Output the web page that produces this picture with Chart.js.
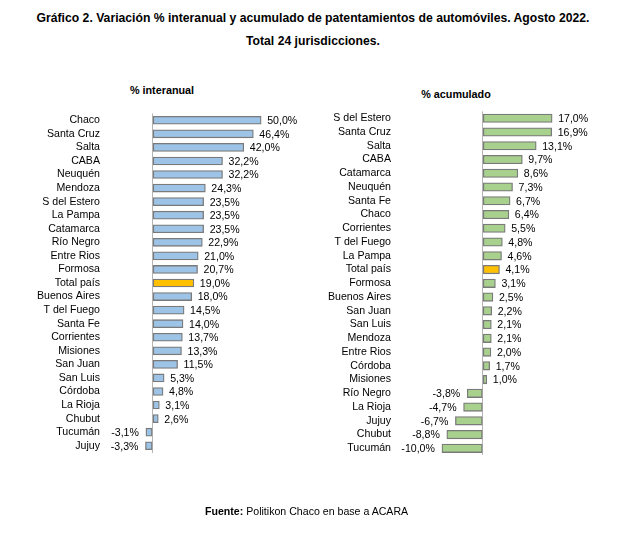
<!DOCTYPE html>
<html>
<head>
<meta charset="utf-8">
<script src="https://cdn.jsdelivr.net/npm/chart.js@4.4.0/dist/chart.umd.min.js"></script>
<style>
  body { margin: 0; background: #fff; font-family: "Liberation Sans", Arial, sans-serif; color: #000; }
  #page { position: relative; width: 626px; height: 551px; overflow: hidden; }
  .txt { position: absolute; white-space: nowrap; }
  .title { font-weight: bold; font-size: 12.2px; left: 0; width: 626px; text-align: center; }
  .sub { font-weight: bold; font-size: 10.8px; transform: translateX(-50%); }
  #left { position: absolute; left: 0; top: 0; width: 310px; height: 551px; }
  #right { position: absolute; left: 310px; top: 0; width: 316px; height: 551px; }
</style>
</head>
<body>
<div id="page">
  <div class="txt title" style="top:11px;">Gráfico 2. Variación % interanual y acumulado de patentamientos de automóviles. Agosto 2022.</div>
  <div class="txt title" style="top:34px;">Total 24 jurisdicciones.</div>
  <div class="txt sub" style="left:162px; top:84px;">% interanual</div>
  <div class="txt sub" style="left:456px; top:88px;">% acumulado</div>
  <div id="left"><canvas id="chartLeft"></canvas></div>
  <div id="right"><canvas id="chartRight"></canvas></div>
  <div class="txt" style="left:205px; top:505px; font-size:10.6px;"><b>Fuente:</b> Politikon Chaco en base a ACARA</div>
</div>
<script>
var interanualLabels = ["Chaco", "Santa Cruz", "Salta", "CABA", "Neuquén", "Mendoza", "S del Estero",
    "La Pampa", "Catamarca", "Río Negro", "Entre Rios", "Formosa", "Total país", "Buenos Aires",
    "T del Fuego", "Santa Fe", "Corrientes", "Misiones", "San Juan", "San Luis", "Córdoba",
    "La Rioja", "Chubut", "Tucumán", "Jujuy"];
var interanualValues = [50.0, 46.4, 42.0, 32.2, 32.2, 24.3, 23.5, 23.5, 23.5, 22.9, 21.0, 20.7, 19.0,
    18.0, 14.5, 14.0, 13.7, 13.3, 11.5, 5.3, 4.8, 3.1, 2.6, -3.1, -3.3];

var acumuladoLabels = ["S del Estero", "Santa Cruz", "Salta", "CABA", "Catamarca", "Neuquén", "Santa Fe",
    "Chaco", "Corrientes", "T del Fuego", "La Pampa", "Total país", "Formosa", "Buenos Aires",
    "San Juan", "San Luis", "Mendoza", "Entre Rios", "Córdoba", "Misiones", "Río Negro",
    "La Rioja", "Jujuy", "Chubut", "Tucumán"];
var acumuladoValues = [17.0, 16.9, 13.1, 9.7, 8.6, 7.3, 6.7, 6.4, 5.5, 4.8, 4.6, 4.1, 3.1, 2.5,
    2.2, 2.1, 2.1, 2.0, 1.7, 1.0, -3.8, -4.7, -6.7, -8.8, -10.0];

var FONT = "'Liberation Sans', Arial, sans-serif";
var highlight = "Total país";

function fmt(v) {
    return v.toFixed(1).replace('.', ',') + '%';
}

var valueLabels = {
    id: 'valueLabels',
    afterDatasetsDraw: function (chart) {
        var ctx = chart.ctx;
        var meta = chart.getDatasetMeta(0);
        var data = chart.data.datasets[0].data;
        ctx.save();
        ctx.font = '10.6px ' + FONT;
        ctx.fillStyle = '#000';
        ctx.textBaseline = 'middle';
        meta.data.forEach(function (bar, i) {
            var v = data[i];
            if (v >= 0) {
                ctx.textAlign = 'left';
                ctx.fillText(fmt(v), bar.x + 6, bar.y + 1);
            } else {
                ctx.textAlign = 'right';
                ctx.fillText(fmt(v), bar.x - 7, bar.y + 1);
            }
        });
        ctx.restore();
    }
};

function makeChart(id, labels, values, color, opts) {
    return new Chart(document.getElementById(id), {
        type: 'bar',
        data: {
            labels: labels,
            datasets: [{
                data: values,
                backgroundColor: labels.map(function (l) { return l === highlight ? '#FFC000' : color; }),
                borderColor: '#7a7a7a',
                borderWidth: 1.3,
                borderSkipped: false,
                categoryPercentage: 1,
                barThickness: opts.bar
            }]
        },
        options: {
            indexAxis: 'y',
            responsive: true,
            maintainAspectRatio: false,
            animation: false,
            layout: { padding: { top: opts.top, bottom: opts.bottom, left: 0, right: 0 } },
            plugins: { legend: { display: false }, tooltip: { enabled: false } },
            scales: {
                x: {
                    min: opts.min,
                    max: opts.max,
                    ticks: { display: false, stepSize: 1 },
                    border: { display: false },
                    grid: {
                        drawTicks: false,
                        lineWidth: 1,
                        color: function (c) { return c.tick && c.tick.value === 0 ? '#b4b4b4' : 'rgba(0,0,0,0)'; }
                    },
                    afterFit: function (s) { s.height = 0; }
                },
                y: {
                    ticks: { color: '#000', font: { family: FONT, size: 10.6 }, padding: 4, autoSkip: false },
                    border: { display: false },
                    grid: { display: false, drawTicks: false },
                    afterFit: function (s) { s.width = opts.axisWidth; }
                }
            }
        },
        plugins: [valueLabels]
    });
}

makeChart('chartLeft', interanualLabels, interanualValues, '#9DC3E6',
    { top: 113.5, bottom: 551 - 452.5, min: -22.4, max: 72.5, axisWidth: 104, bar: 8 });
makeChart('chartRight', acumuladoLabels, acumuladoValues, '#A9D18E',
    { top: 111.4, bottom: 551 - 455.2, min: -21.5, max: 35.1, axisWidth: 85, bar: 8.5 });
</script>
</body>
</html>
